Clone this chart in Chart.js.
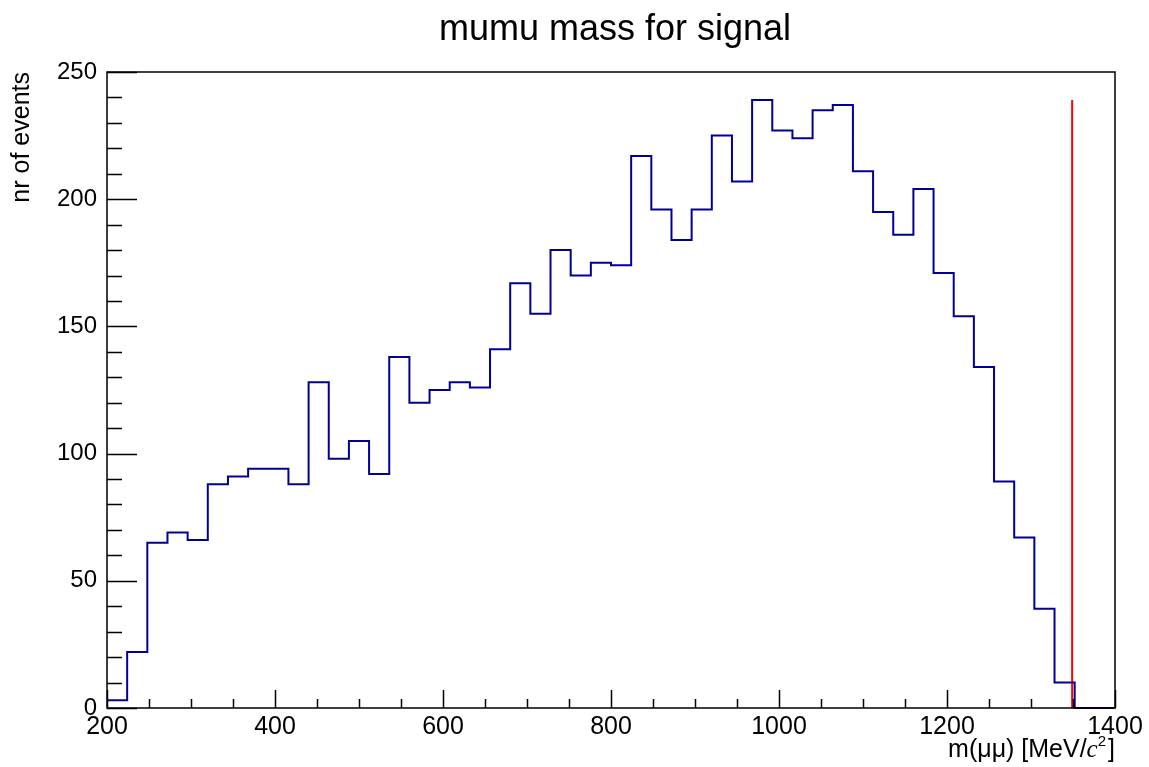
<!DOCTYPE html>
<html>
<head>
<meta charset="utf-8">
<title>mumu mass for signal</title>
<script src="https://cdn.jsdelivr.net/npm/chart.js@4.4.1/dist/chart.umd.min.js"></script>
<style>
  html, body { margin: 0; padding: 0; background: #fff; }
  #wrap { width: 1149px; height: 767px; }
</style>
</head>
<body>
<div id="wrap"><canvas id="histo" width="1149" height="767"></canvas></div>
<script>
// histogram: 50 bins from 200 to 1400 MeV/c^2
const xMin = 200;
const xMax = 1400;
const nBins = 50;
const counts = [
  3, 22, 65, 69, 66, 88, 91, 94, 94, 88,
  128, 98, 105, 92, 138, 120, 125, 128, 126, 141,
  167, 155, 180, 170, 175, 174, 217, 196, 184, 196,
  225, 207, 239, 227, 224, 235, 237, 211, 195, 186,
  204, 171, 154, 134, 89, 67, 39, 10, 0, 0
];
const cutValue = 1349;          // red vertical line
const xTicks = [200, 400, 600, 800, 1000, 1200, 1400];
const yTicks = [0, 50, 100, 150, 200, 250];
const titleText = 'mumu mass for signal';
const yTitle = 'nr of events';

const FONT = 'Liberation Sans, Arial, Helvetica, sans-serif';
const binWidth = (xMax - xMin) / nBins;

// step points: left edge of each bin, plus closing point at xMax
const histPoints = counts.map((c, i) => ({ x: xMin + i * binWidth, y: c }));
histPoints.push({ x: xMax, y: counts[counts.length - 1] });

const cutLine = [{ x: cutValue, y: 0 }, { x: cutValue, y: Math.max(...counts) }];

// ROOT style frame with inside ticks + titles
const frameTicks = {
  id: 'frameTicks',
  afterDatasetsDraw(chart) {
    const { ctx, chartArea: a, scales: { x, y } } = chart;
    ctx.save();
    ctx.strokeStyle = '#000';
    ctx.lineWidth = 1.5;
    ctx.beginPath();
    // y axis ticks (major 50, minor 10)
    for (let v = 0; v <= 250; v += 10) {
      const py = Math.round(y.getPixelForValue(v)) + 0.5;
      const len = v % 50 === 0 ? 30 : 15;
      ctx.moveTo(a.left, py);
      ctx.lineTo(a.left + len, py);
    }
    // x axis ticks (major 200, minor 50)
    for (let v = xMin; v <= xMax; v += 50) {
      const px = Math.round(x.getPixelForValue(v)) + 0.5;
      const len = v % 200 === 0 ? 18 : 9;
      ctx.moveTo(px, a.bottom);
      ctx.lineTo(px, a.bottom - len);
    }
    ctx.stroke();
    ctx.strokeRect(a.left, a.top, a.right - a.left, a.bottom - a.top);

    // main title
    ctx.fillStyle = '#000';
    ctx.font = '36px ' + FONT;
    ctx.textAlign = 'center';
    ctx.textBaseline = 'alphabetic';
    ctx.fillText(titleText, 615, 40);

    // x title, right aligned to frame: m(μμ) [MeV/c²]
    const base = 757;
    const parts = [
      { t: 'm(μμ) [MeV/', f: '25px ' + FONT, dy: 0 },
      { t: 'c', f: 'italic 25px "Liberation Serif", serif', dy: 0 },
      { t: '2', f: '15px ' + FONT, dy: -11 },
      { t: ']', f: '25px ' + FONT, dy: 0 }
    ];
    ctx.textAlign = 'left';
    let total = 0;
    parts.forEach(p => { ctx.font = p.f; p.w = ctx.measureText(p.t).width; total += p.w + (p.t === '2' ? 2 : 0); });
    let cx = a.right - total;
    parts.forEach(p => {
      ctx.font = p.f;
      ctx.fillText(p.t, cx, base + p.dy);
      cx += p.w + (p.t === '2' ? 2 : 0);
    });

    // y title, rotated, right aligned to frame top
    ctx.save();
    ctx.translate(29, a.top);
    ctx.rotate(-Math.PI / 2);
    ctx.font = '25px ' + FONT;
    ctx.textAlign = 'right';
    ctx.fillText(yTitle, 0, 0);
    ctx.restore();

    ctx.restore();
  }
};

const chart = new Chart(document.getElementById('histo').getContext('2d'), {
  type: 'line',
  data: {
    datasets: [
      {
        label: 'signal',
        data: histPoints,
        stepped: 'before',
        borderColor: '#000099',
        borderWidth: 2,
        pointRadius: 0,
        fill: false,
        clip: 4
      },
      {
        label: 'cut',
        data: cutLine,
        borderColor: '#ff0000',
        borderWidth: 2,
        pointRadius: 0,
        fill: false,
        clip: 4
      }
    ]
  },
  options: {
    responsive: false,
    animation: false,
    devicePixelRatio: 1,
    layout: { padding: { left: 0, right: 34, top: 72, bottom: 0 } },
    plugins: {
      legend: { display: false },
      tooltip: { enabled: false },
      title: { display: false }
    },
    scales: {
      x: {
        type: 'linear',
        min: xMin,
        max: xMax,
        afterBuildTicks: (s) => { s.ticks = xTicks.map(v => ({ value: v })); },
        afterFit: (s) => { s.height = 59; },
        grid: { display: false, drawTicks: false },
        border: { display: false },
        ticks: {
          color: '#000',
          padding: 4,
          maxRotation: 0,
          font: { family: FONT, size: 25 },
          callback: (v) => String(v)
        }
      },
      y: {
        type: 'linear',
        min: 0,
        max: 250,
        afterBuildTicks: (s) => { s.ticks = yTicks.map(v => ({ value: v })); },
        afterFit: (s) => { s.width = 107; },
        grid: { display: false, drawTicks: false },
        border: { display: false },
        ticks: {
          color: '#000',
          padding: 10,
          font: { family: FONT, size: 24 },
          callback: (v) => String(v)
        }
      }
    }
  },
  plugins: [frameTicks]
});
</script>
</body>
</html>
